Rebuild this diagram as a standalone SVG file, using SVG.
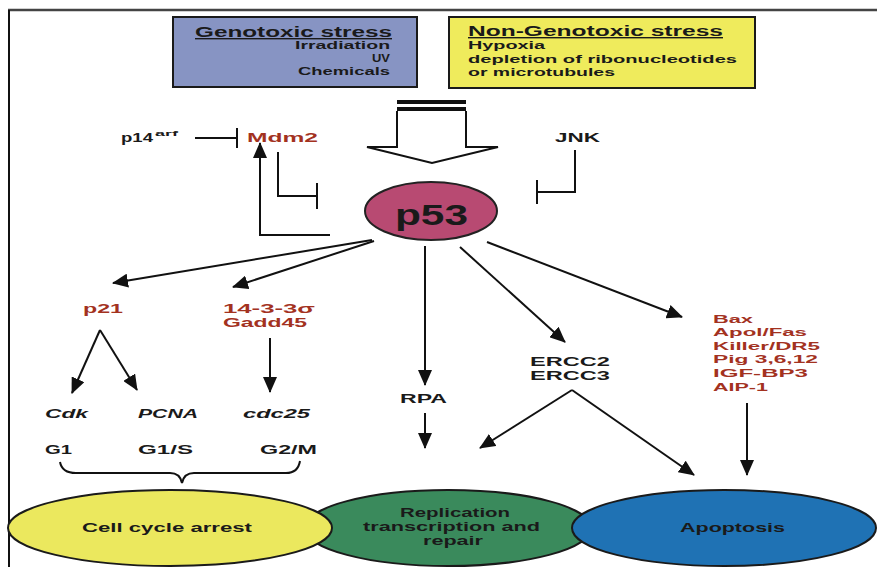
<svg xmlns="http://www.w3.org/2000/svg" width="877" height="567" viewBox="0 0 877 567">
<defs>
<marker id="ah" viewBox="0 0 16 14" refX="15" refY="7" markerWidth="16" markerHeight="14" markerUnits="userSpaceOnUse" orient="auto">
<path d="M0,0 L16,7 L0,14 z" fill="#111"/>
</marker>
<style>
text{font-family:"Liberation Sans",Arial,sans-serif;font-weight:bold;fill:#1a1a1a;}
.red{fill:#a3321f;}
.it{font-style:italic;}
.ln{stroke:#111;stroke-width:2;fill:none;}
.arr{stroke:#111;stroke-width:2;fill:none;marker-end:url(#ah);}
.ol{stroke:#1a1a1a;stroke-width:2;}
</style>
</defs>
<rect width="877" height="567" fill="#fff"/>
<g id="frame">
<line x1="8" y1="10" x2="877" y2="10" stroke="#444" stroke-width="2.5"/>
<line x1="9" y1="10" x2="9" y2="567" stroke="#111" stroke-width="2"/>
</g>

<g id="genotoxic">
<rect x="173" y="17" width="244" height="70" fill="#8794c3" class="ol"/>
<text x="195" y="37" font-size="14" textLength="197" lengthAdjust="spacingAndGlyphs" text-decoration="underline">Genotoxic stress</text>
<text x="295" y="49" font-size="11.5" textLength="95" lengthAdjust="spacingAndGlyphs">Irradiation</text>
<text x="372" y="62" font-size="11.5" textLength="18" lengthAdjust="spacingAndGlyphs">UV</text>
<text x="298" y="75" font-size="11.5" textLength="92" lengthAdjust="spacingAndGlyphs">Chemicals</text>
</g>

<g id="nongenotoxic">
<rect x="449" y="17" width="306" height="71" fill="#efeb5c" class="ol"/>
<text x="468" y="36" font-size="14" textLength="255" lengthAdjust="spacingAndGlyphs" text-decoration="underline">Non-Genotoxic stress</text>
<text x="468" y="49" font-size="11.5" textLength="77" lengthAdjust="spacingAndGlyphs">Hypoxia</text>
<text x="468" y="63" font-size="11.5" textLength="269" lengthAdjust="spacingAndGlyphs">depletion of ribonucleotides</text>
<text x="468" y="76" font-size="11.5" textLength="147" lengthAdjust="spacingAndGlyphs">or microtubules</text>
</g>

<g id="stress-arrow">
<rect x="397" y="100" width="69" height="4" fill="#111"/>
<rect x="397" y="107" width="69" height="4" fill="#111"/>
<path d="M397,111 L397,147 L367,147 L432,163 L498,147 L466,147 L466,111" fill="#fff" stroke="#111" stroke-width="2"/>
</g>

<g id="p14arf">
<text x="121" y="142" font-size="12" textLength="32" lengthAdjust="spacingAndGlyphs">p14</text>
<text x="155" y="136" font-size="8" textLength="23" lengthAdjust="spacingAndGlyphs">arf</text>
</g>
<g id="mdm2">
<text class="red" x="247" y="142" font-size="13" textLength="71" lengthAdjust="spacingAndGlyphs">Mdm2</text>
</g>
<g id="jnk">
<text x="555" y="142" font-size="13" textLength="45" lengthAdjust="spacingAndGlyphs">JNK</text>
</g>

<g id="p53">
<ellipse cx="431" cy="211" rx="66" ry="29" fill="#b84a72" stroke="#222" stroke-width="2"/>
<text x="395" y="225" font-size="29" textLength="73" lengthAdjust="spacingAndGlyphs" fill="#2a1a1a">p53</text>
</g>

<g id="p21"><text class="red" x="83" y="313" font-size="13" textLength="40" lengthAdjust="spacingAndGlyphs">p21</text></g>
<g id="sigma-gadd45">
<text class="red" x="223" y="313" font-size="13" textLength="92" lengthAdjust="spacingAndGlyphs">14-3-3σ</text>
<text class="red" x="223" y="327" font-size="13" textLength="84" lengthAdjust="spacingAndGlyphs">Gadd45</text>
</g>
<g id="cdk"><text class="it" x="45" y="418" font-size="13" textLength="43" lengthAdjust="spacingAndGlyphs">Cdk</text></g>
<g id="pcna"><text class="it" x="138" y="418" font-size="13" textLength="60" lengthAdjust="spacingAndGlyphs">PCNA</text></g>
<g id="cdc25"><text class="it" x="243" y="418" font-size="13" textLength="67" lengthAdjust="spacingAndGlyphs">cdc25</text></g>
<g id="phases">
<text x="45" y="454" font-size="13" textLength="27" lengthAdjust="spacingAndGlyphs">G1</text>
<text x="138" y="454" font-size="13" textLength="55" lengthAdjust="spacingAndGlyphs">G1/S</text>
<text x="260" y="454" font-size="13" textLength="57" lengthAdjust="spacingAndGlyphs">G2/M</text>
</g>
<g id="rpa"><text x="400" y="403" font-size="13" textLength="47" lengthAdjust="spacingAndGlyphs">RPA</text></g>
<g id="ercc">
<text x="530" y="366" font-size="12.5" textLength="80" lengthAdjust="spacingAndGlyphs">ERCC2</text>
<text x="530" y="380" font-size="12.5" textLength="80" lengthAdjust="spacingAndGlyphs">ERCC3</text>
</g>
<g id="bax">
<text class="red" x="713" y="323" font-size="11.5" textLength="40" lengthAdjust="spacingAndGlyphs">Bax</text>
<text class="red" x="713" y="336" font-size="11.5" textLength="94" lengthAdjust="spacingAndGlyphs">Apol/Fas</text>
<text class="red" x="713" y="350" font-size="11.5" textLength="107" lengthAdjust="spacingAndGlyphs">Killer/DR5</text>
<text class="red" x="713" y="363" font-size="11.5" textLength="105" lengthAdjust="spacingAndGlyphs">Pig 3,6,12</text>
<text class="red" x="713" y="377" font-size="11.5" textLength="95" lengthAdjust="spacingAndGlyphs">IGF-BP3</text>
<text class="red" x="713" y="391" font-size="11.5" textLength="55" lengthAdjust="spacingAndGlyphs">AIP-1</text>
</g>

<g id="connectors">
<line class="arr" x1="372" y1="240" x2="113" y2="283"/>
<line class="arr" x1="374" y1="241" x2="233" y2="287"/>
<line class="arr" x1="425" y1="246" x2="425" y2="385"/>
<line class="arr" x1="460" y1="247" x2="565" y2="342"/>
<line class="arr" x1="487" y1="242" x2="682" y2="317"/>
<polyline class="ln" points="278,152 278,196 317,196"/>
<line class="ln" x1="317" y1="183" x2="317" y2="209"/>
<polyline class="arr" points="330,235 260,235 260,143"/>
<line class="ln" x1="195" y1="138" x2="237" y2="138"/>
<line class="ln" x1="237" y1="128" x2="237" y2="148"/>
<polyline class="ln" points="575,150 575,192 537,192"/>
<line class="ln" x1="537" y1="180" x2="537" y2="204"/>
<line class="arr" x1="100" y1="330" x2="72" y2="393"/>
<line class="arr" x1="100" y1="330" x2="137" y2="390"/>
<line class="arr" x1="270" y1="338" x2="270" y2="392"/>
<line class="arr" x1="425" y1="413" x2="425" y2="448"/>
<line class="arr" x1="572" y1="390" x2="480" y2="448"/>
<line class="arr" x1="572" y1="390" x2="694" y2="475"/>
<line class="arr" x1="747" y1="403" x2="747" y2="475"/>
<path class="ln" d="M60,462 Q62,473 76,473 L170,473 Q180,473 182,483 Q184,473 194,473 L286,473 Q298,473 300,461"/>
</g>

<g id="replication">
<ellipse cx="448" cy="528" rx="143" ry="38" fill="#3a8a5c" stroke="#1a1a1a" stroke-width="2"/>
<text x="400" y="517" font-size="12" textLength="110" lengthAdjust="spacingAndGlyphs">Replication</text>
<text x="363" y="531" font-size="12" textLength="177" lengthAdjust="spacingAndGlyphs">transcription and</text>
<text x="423" y="545" font-size="12" textLength="60" lengthAdjust="spacingAndGlyphs">repair</text>
</g>
<g id="cell-cycle-arrest">
<ellipse cx="170" cy="528" rx="162" ry="38" fill="#ebe85e" stroke="#1a1a1a" stroke-width="2"/>
<text x="82" y="532" font-size="13" textLength="170" lengthAdjust="spacingAndGlyphs">Cell cycle arrest</text>
</g>
<g id="apoptosis">
<ellipse cx="724" cy="528" rx="152" ry="38" fill="#1f72b4" stroke="#1a1a1a" stroke-width="2"/>
<text x="680" y="532" font-size="13" textLength="105" lengthAdjust="spacingAndGlyphs" fill="#10204a">Apoptosis</text>
</g>
</svg>
